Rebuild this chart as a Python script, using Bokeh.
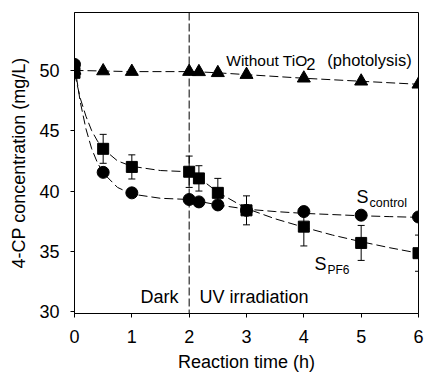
from bokeh.plotting import figure
from bokeh.models import (ColumnDataSource, Whisker, TeeHead, Span, Label,
                          FixedTicker, Range1d, Title)
from bokeh.embed import file_html
from bokeh.resources import INLINE

# ---- data ----
t_pts = [0, 0.5, 1, 2, 2.17, 2.5, 3, 4, 5, 6]
photolysis = [50.0, 49.95, 49.9, 49.9, 49.88, 49.8, 49.65, 49.35, 49.1, 48.85]
s_control = [50.5, 41.55, 39.85, 39.3, 39.1, 38.85, 38.4, 38.3, 38.0, 37.85]
s_pf6 = [49.8, 43.5, 42.0, 41.6, 41.05, 39.85, 38.4, 37.05, 35.7, 34.85]
s_pf6_err = [0.3, 1.2, 1.0, 1.3, 1.05, 1.2, 1.2, 1.6, 1.45, 1.5]

# fitted (dashed) curves
fit_t = [0, 0.1, 0.2, 0.3, 0.4, 0.5, 0.75, 1.0, 1.5, 2.0,
         2.17, 2.5, 3.0, 3.5, 4.0, 4.5, 5.0, 5.5, 6.0]
ctrl_fit = [50.5, 47.4, 45.15, 43.5, 42.35, 41.5, 40.3, 39.75, 39.4, 39.3,
            39.15, 38.85, 38.5, 38.3, 38.15, 38.05, 37.95, 37.88, 37.82]
pf6_fit = [49.8, 47.7, 46.2, 45.0, 44.15, 43.5, 42.5, 42.05, 41.7, 41.6,
           41.1, 39.9, 38.55, 37.7, 37.0, 36.35, 35.8, 35.3, 34.85]

x_ticks = [0, 1, 2, 3, 4, 5, 6]
y_ticks = [30, 35, 40, 45, 50]

FONT = "Liberation Sans"

p = figure(width=426, height=377, output_backend="svg", toolbar_location=None,
           x_range=Range1d(0, 6), y_range=Range1d(29.85, 54.8),
           min_border_left=74, min_border_right=8, min_border_top=12,
           min_border_bottom=64)

p.xgrid.visible = False
p.ygrid.visible = False
p.outline_line_color = "black"
p.outline_line_width = 1
p.background_fill_color = "white"
p.border_fill_color = "white"

for ax in (p.xaxis, p.yaxis):
    ax.axis_line_color = "black"
    ax.major_tick_line_color = "black"
    ax.minor_tick_line_color = None
    ax.major_tick_in = 0
    ax.major_tick_out = 4
    ax.major_label_text_font = FONT
    ax.major_label_text_font_size = "18px"
    ax.major_label_text_color = "black"
    ax.axis_label_text_font = FONT
    ax.axis_label_text_font_size = "18px"
    ax.axis_label_text_font_style = "normal"
    ax.axis_label_text_color = "black"

p.xaxis.ticker = FixedTicker(ticks=x_ticks)
p.yaxis.ticker = FixedTicker(ticks=y_ticks)
p.yaxis.axis_label = "4-CP concentration (mg/L)"
p.xaxis.major_label_standoff = 12
p.yaxis.major_label_standoff = 11
p.yaxis.axis_label_standoff = 7

# x-axis title as a title panel below the axis
p.add_layout(Title(text="Reaction time (h)", align="center", text_font=FONT,
                   text_font_size="18px", text_font_style="normal",
                   text_color="black", standoff=9, offset=0), "below")

# vertical divider dark / UV
p.add_layout(Span(location=2, dimension="height", line_color="black",
                  line_width=1, line_dash="8 3"))

dash = "9 4"
p.line(t_pts, photolysis, line_color="black", line_width=1, line_dash=dash)
p.line(fit_t, ctrl_fit, line_color="black", line_width=1, line_dash=dash)
p.line(fit_t, pf6_fit, line_color="black", line_width=1, line_dash=dash)

src = ColumnDataSource(dict(
    t=t_pts, y=s_pf6,
    upper=[v + e for v, e in zip(s_pf6, s_pf6_err)],
    lower=[v - e for v, e in zip(s_pf6, s_pf6_err)]))
wh = Whisker(source=src, base="t", upper="upper", lower="lower",
             line_color="black", line_width=1,
             upper_head=TeeHead(size=7, line_color="black", line_width=1),
             lower_head=TeeHead(size=7, line_color="black", line_width=1))
wh.level = "underlay"
p.add_layout(wh)

p.scatter(t_pts, photolysis, marker="triangle", size=13,
          fill_color="black", line_color="black")
p.scatter(t_pts, s_control, marker="circle", size=12,
          fill_color="black", line_color="black")
p.scatter(source=src, x="t", y="y", marker="square", size=11,
          fill_color="black", line_color="black")

def lab(x, y, text, size, align="left", baseline="alphabetic"):
    p.add_layout(Label(x=x, y=y, text=text, text_font=FONT,
                       text_font_size=size, text_color="black",
                       text_align=align, text_baseline=baseline))

# Without TiO2 (photolysis)
lab(4.064, 50.83, "Without TiO", "15.5px", align="right")
lab(4.04, 50.5, "2", "16.5px")
lab(4.41, 50.83, "(photolysis)", "16.5px")
# S_control
lab(4.919, 39.51, "S", "18px")
lab(5.146, 39.01, "control", "12.5px")
# S_PF6
lab(4.186, 33.96, "S", "18px")
lab(4.413, 33.46, "PF6", "12px")
# Dark / UV irradiation
lab(1.814, 31.18, "Dark", "18px", align="right", baseline="middle")
lab(2.18, 31.18, "UV irradiation", "18px", baseline="middle")

open("out.html", "w").write(file_html(p, INLINE))
